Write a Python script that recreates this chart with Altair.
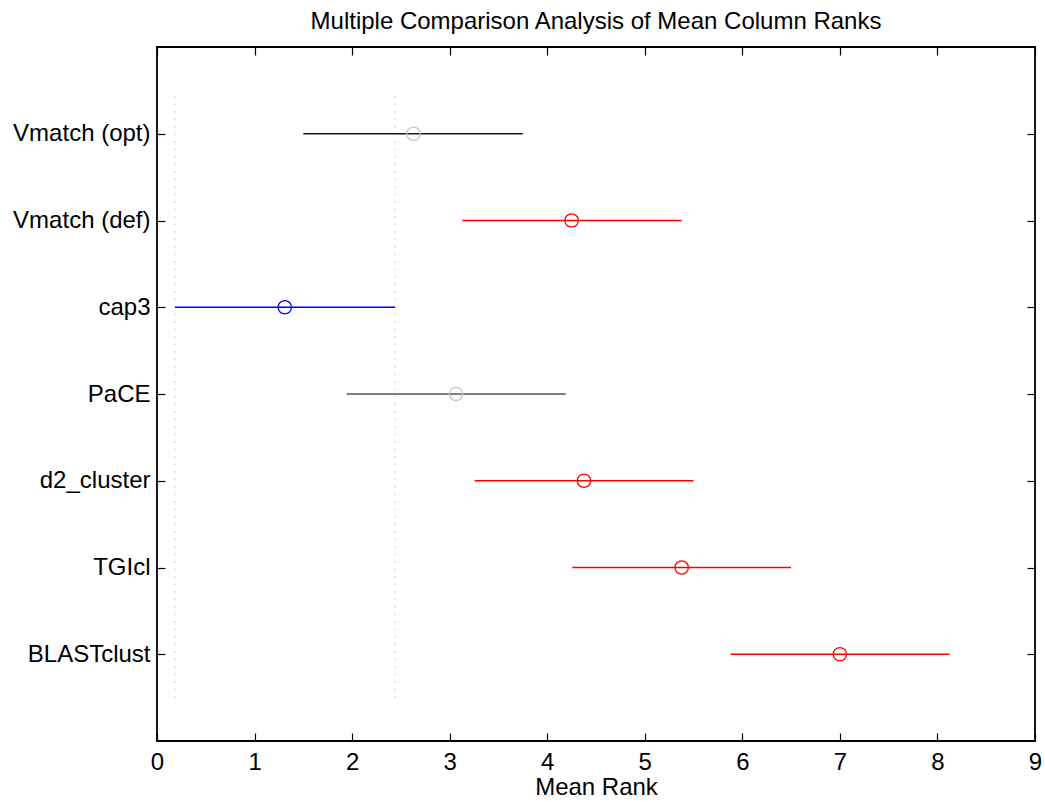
import altair as alt
import pandas as pd

groups = ["Vmatch (opt)", "Vmatch (def)", "cap3", "PaCE", "d2_cluster", "TGIcl", "BLASTclust"]
means = [2.63, 4.25, 1.31, 3.065, 4.377, 5.378, 7.0]
lower = [1.50, 3.13, 0.185, 1.944, 3.256, 4.257, 5.88]
upper = [3.75, 5.378, 2.44, 4.19, 5.50, 6.50, 8.125]
line_colors = ["#1a1a1a", "#ff0000", "#0000ff", "#555555", "#ff0000", "#ff0000", "#ff0000"]
marker_colors = ["#c8c8c8", "#ff0000", "#0000ff", "#c8c8c8", "#ff0000", "#ff0000", "#ff0000"]
x_ticks = [0, 1, 2, 3, 4, 5, 6, 7, 8, 9]

n = len(groups)
pos = [n - i for i in range(n)]
df = pd.DataFrame({"group": groups, "pos": pos, "mean": means, "lo": lower, "hi": upper,
                   "lc": line_colors, "mc": marker_colors})

# reference (dotted) lines at bounds of the selected group's interval (cap3)
sel = groups.index("cap3")
ref = pd.DataFrame({"x": [lower[sel], upper[sel]], "y0": [0.5, 0.5], "y1": [n + 0.5, n + 0.5]})

label_arr = "[" + ",".join(["''"] + ["'" + g + "'" for g in reversed(groups)] + ["''"]) + "]"

FONT = "Liberation Sans"
FS = 24
xscale = alt.Scale(domain=[0, 9], nice=False, zero=False)
yscale = alt.Scale(domain=[0, n + 1], nice=False, zero=False)

xaxis = alt.Axis(values=x_ticks, orient="bottom", offset=-8, tickSize=8, tickWidth=1.2, tickColor="black",
                 domain=False, grid=False, labelPadding=9, labelFontSize=FS, labelFont=FONT,
                 labelFlush=False, labelOverlap=False,
                 labelColor="black", title="Mean Rank", titleFontSize=FS, titleFont=FONT,
                 titleFontWeight="normal", titleColor="black", titlePadding=1)
yaxis = alt.Axis(values=list(range(1, n + 1)), orient="left", offset=-8, tickSize=8, tickWidth=1.2,
                 tickColor="black", domain=False, grid=False, labelPadding=7, labelFontSize=FS,
                 labelFlush=False, labelOverlap=False,
                 labelFont=FONT, labelColor="black", labelExpr=label_arr + "[datum.value]", title=None)

refs = alt.Chart(ref).mark_rule(color="#c0c0c0", strokeDash=[1.5, 6], strokeWidth=1).encode(
    x=alt.X("x:Q", scale=xscale, axis=xaxis),
    y=alt.Y("y0:Q", scale=yscale, axis=yaxis),
    y2="y1:Q",
)

top_axis = alt.Chart(ref).mark_rule(opacity=0).encode(
    x=alt.X("x:Q", scale=xscale, axis=alt.Axis(values=x_ticks, orient="top", offset=-8, tickSize=8,
                                               tickWidth=1.2, tickColor="black", domain=False,
                                               grid=False, labels=False, title=None)),
    y=alt.Y("y0:Q", scale=yscale, axis=alt.Axis(values=list(range(1, n + 1)), orient="right", offset=-8,
                                               tickSize=8, tickWidth=1.2, tickColor="black",
                                               domain=False, grid=False, labels=False, title=None)),
)

bars = alt.Chart(df).mark_rule(strokeWidth=1.3).encode(
    x=alt.X("lo:Q", scale=xscale, axis=None),
    x2="hi:Q",
    y=alt.Y("pos:Q", scale=yscale, axis=None),
    color=alt.Color("lc:N", scale=None),
)

pts = alt.Chart(df).mark_point(shape="circle", size=180, strokeWidth=1.3, filled=False, opacity=1).encode(
    x=alt.X("mean:Q", scale=xscale, axis=None),
    y=alt.Y("pos:Q", scale=yscale, axis=None),
    stroke=alt.Color("mc:N", scale=None),
)

chart = alt.layer(refs, top_axis, bars, pts).resolve_axis(x="independent", y="independent").properties(
    width=878, height=694,
    title=alt.TitleParams("Multiple Comparison Analysis of Mean Column Ranks", fontSize=FS, font=FONT,
                          fontWeight="normal", color="black", offset=12, anchor="middle"),
    autosize=alt.AutoSizeParams(type="none"),
    padding={"left": 157, "top": 47, "right": 10, "bottom": 61},
    background="white",
).configure_view(stroke="black", strokeWidth=1.8)

chart.save("out.html", embed_options={"renderer": "svg", "actions": False})
